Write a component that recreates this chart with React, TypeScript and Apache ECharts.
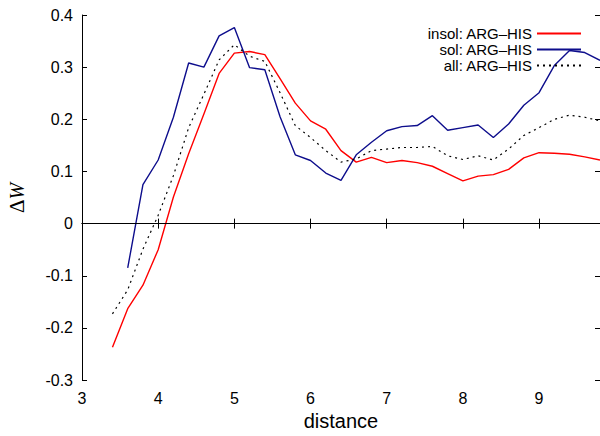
import React, { useEffect, useRef } from "react";
import * as echarts from "echarts";

const distances = [3.4, 3.6, 3.8, 4.0, 4.2, 4.4, 4.6, 4.8, 5.0, 5.2, 5.4, 5.6, 5.8, 6.0, 6.2, 6.4, 6.6, 6.8, 7.0, 7.2, 7.4, 7.6, 7.8, 8.0, 8.2, 8.4, 8.6, 8.8, 9.0, 9.2, 9.4, 9.6, 9.8];

const insolValues = [-0.237, -0.163, -0.118, -0.050, 0.051, 0.134, 0.210, 0.288, 0.327, 0.330, 0.324, 0.278, 0.231, 0.197, 0.181, 0.140, 0.118, 0.127, 0.117, 0.121, 0.117, 0.110, 0.096, 0.082, 0.091, 0.094, 0.104, 0.126, 0.136, 0.135, 0.133, 0.128, 0.122];

const solValues = [null, -0.085, 0.075, 0.122, 0.204, 0.308, 0.300, 0.360, 0.376, 0.299, 0.295, 0.205, 0.132, 0.121, 0.097, 0.083, 0.132, 0.156, 0.178, 0.186, 0.188, 0.207, 0.179, 0.184, 0.189, 0.165, 0.191, 0.227, 0.251, 0.303, 0.332, 0.328, 0.313];

const allValues = [-0.173, -0.127, -0.049, 0.016, 0.092, 0.184, 0.248, 0.314, 0.343, 0.321, 0.311, 0.251, 0.188, 0.165, 0.140, 0.118, 0.124, 0.140, 0.143, 0.146, 0.146, 0.148, 0.130, 0.123, 0.130, 0.122, 0.143, 0.169, 0.184, 0.200, 0.208, 0.204, 0.197];

const seriesNames = ["insol: ARG\u2013HIS", "sol: ARG\u2013HIS", "all: ARG\u2013HIS"];

const xAxisMin = 3;
const xAxisMax = 9.8;
const yAxisMin = -0.3;
const yAxisMax = 0.4;

const FONT = "Liberation Sans, Arial, sans-serif";

function pairs(values: (number | null)[]) {
  const out: [number, number][] = [];
  distances.forEach((d, i) => {
    const v = values[i];
    if (v !== null && v !== undefined) out.push([d, v]);
  });
  return out;
}

export default function App() {
  const ref = useRef<HTMLDivElement>(null);

  useEffect(() => {
    if (!ref.current) return;
    const chart = echarts.init(ref.current, null, { renderer: "svg" });
    const axisLine = { show: true, lineStyle: { color: "#000", width: 1 } };
    const tick = { show: true, inside: true, length: 5, lineStyle: { color: "#000", width: 1 } };
    chart.setOption({
      animation: false,
      backgroundColor: "#fff",
      grid: { left: 82, top: 15, width: 519, height: 368, containLabel: false },
      legend: {
        orient: "vertical",
        align: "right",
        right: 13,
        top: 21,
        itemWidth: 44,
        itemHeight: 10,
        itemGap: 1,
        itemStyle: { opacity: 0 },
        textStyle: { fontSize: 15, fontFamily: FONT, color: "#000", lineHeight: 14 },
        data: seriesNames,
      },
      xAxis: [
        {
          type: "value",
          min: xAxisMin,
          max: xAxisMax,
          interval: 1,
          position: "bottom",
          axisLine,
          axisTick: tick,
          splitLine: { show: false },
          axisLabel: { showMaxLabel: false, fontSize: 16, fontFamily: FONT, color: "#000", margin: 10 },
          name: "distance",
          nameLocation: "middle",
          nameGap: 30,
          nameTextStyle: { fontSize: 20, fontFamily: FONT, color: "#000" },
        },
        {
          type: "value",
          min: xAxisMin,
          max: xAxisMax,
          interval: 1,
          position: "top",
          axisLine,
          axisTick: tick,
          splitLine: { show: false },
          axisLabel: { show: false },
        },
      ],
      yAxis: [
        {
          type: "value",
          min: yAxisMin,
          max: yAxisMax,
          interval: 0.1,
          position: "left",
          axisLine,
          axisTick: tick,
          splitLine: { show: false },
          axisLabel: { fontSize: 16, fontFamily: FONT, color: "#000", margin: 9 },
        },
        {
          type: "value",
          min: yAxisMin,
          max: yAxisMax,
          interval: 0.1,
          position: "right",
          axisLine,
          axisTick: tick,
          splitLine: { show: false },
          axisLabel: { show: false },
        },
      ],
      graphic: [
        {
          type: "text",
          x: 17,
          y: 198,
          rotation: Math.PI / 2,
          style: {
            text: "{a|\u0394}{b|W}",
            rich: {
              a: { fontFamily: "Liberation Serif, serif", fontSize: 21, fill: "#000" },
              b: { fontFamily: "Liberation Serif, serif", fontSize: 20, fontStyle: "italic", fill: "#000" },
            },
            textAlign: "center",
            textVerticalAlign: "middle",
          },
        },
      ],
      series: [
        {
          name: seriesNames[0],
          type: "line",
          data: pairs(insolValues),
          symbol: "none",
          lineStyle: { color: "#ff0000", width: 1.4 },
          itemStyle: { color: "#ff0000" },
          markLine: {
            silent: true,
            symbol: "none",
            label: { show: false },
            lineStyle: { color: "#000", width: 1, type: "solid" },
            data: [{ yAxis: 0 }],
          },
          z: 3,
        },
        {
          name: seriesNames[1],
          type: "line",
          data: pairs(solValues),
          symbol: "none",
          lineStyle: { color: "#0d0d8c", width: 1.4 },
          itemStyle: { color: "#0d0d8c" },
          z: 3,
        },
        {
          name: seriesNames[2],
          type: "line",
          data: pairs(allValues),
          symbol: "none",
          lineStyle: { color: "#000", width: 1.2, type: [2, 4] },
          itemStyle: { color: "#000" },
          z: 3,
        },
      ],
    });
    return () => chart.dispose();
  }, []);

  return <div ref={ref} style={{ width: 600, height: 436, position: "fixed", left: 0, top: 0 }} />;
}
